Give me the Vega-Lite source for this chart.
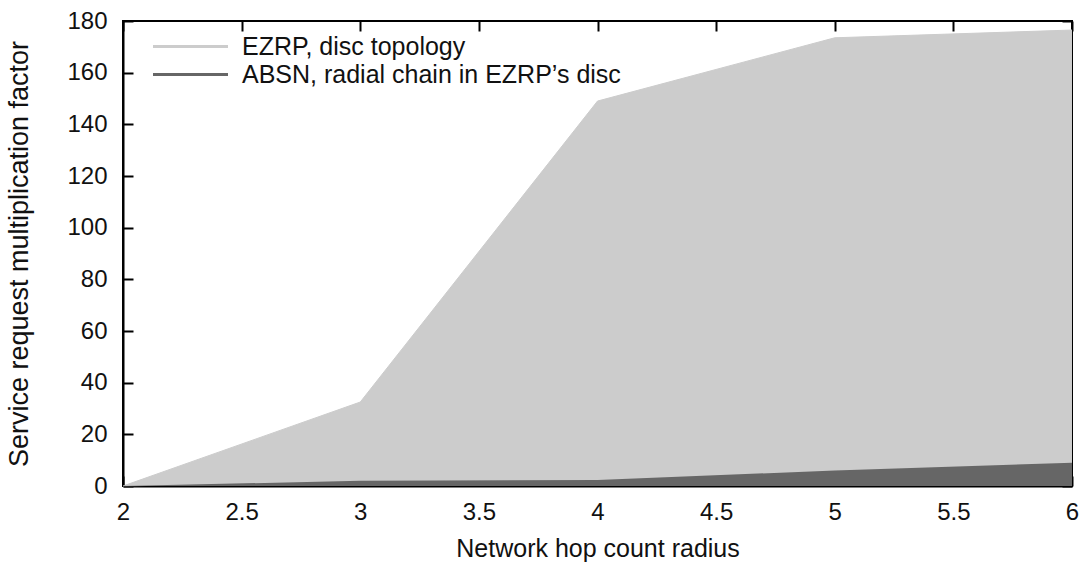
{
  "$schema": "https://vega.github.io/schema/vega-lite/v6.json",
  "autosize": "none",
  "padding": {"left": 123, "top": 21, "right": 8, "bottom": 79},
  "width": 949,
  "height": 465,
  "background": "white",
  "config": {
    "font": "Liberation Sans",
    "view": {"stroke": "black", "strokeWidth": 2},
    "axis": {
      "domainColor": "black", "domainWidth": 2, "tickColor": "black", "tickWidth": 2,
      "tickSize": -10, "labelFontSize": 24, "labelColor": "#111", "titleFontSize": 25,
      "titleFontWeight": "normal", "titleColor": "#111", "grid": false, "labelFont": "Liberation Sans", "titleFont": "Liberation Sans",
      "labelOverlap": false
    }
  },
  "data": {"values": [
    {"x": 2, "y": 0, "s": "EZRP, disc topology"},
    {"x": 3, "y": 32.5, "s": "EZRP, disc topology"},
    {"x": 4, "y": 149, "s": "EZRP, disc topology"},
    {"x": 5, "y": 173.5, "s": "EZRP, disc topology"},
    {"x": 6, "y": 176.5, "s": "EZRP, disc topology"},
    {"x": 2, "y": 0, "s": "ABSN, radial chain in EZRP’s disc"},
    {"x": 3, "y": 2, "s": "ABSN, radial chain in EZRP’s disc"},
    {"x": 4, "y": 2.3, "s": "ABSN, radial chain in EZRP’s disc"},
    {"x": 5, "y": 6, "s": "ABSN, radial chain in EZRP’s disc"},
    {"x": 6, "y": 9, "s": "ABSN, radial chain in EZRP’s disc"}
  ]},
  "resolve": {"axis": {"x": "independent", "y": "independent"}},
  "layer": [
    {
      "mark": {"type": "line", "strokeWidth": 1},
      "encoding": {
        "x": {"field": "x", "type": "quantitative", "scale": {"domain": [2, 6], "nice": false},
          "axis": {"title": "Network hop count radius", "values": [2, 2.5, 3, 3.5, 4, 4.5, 5, 5.5, 6], "format": "~g", "labelPadding": 24, "titlePadding": 12, "labelFlush": false}},
        "y": {"field": "y", "type": "quantitative", "scale": {"domain": [0, 180], "nice": false},
          "axis": {"title": "Service request multiplication factor", "titleFontSize": 27, "values": [0, 20, 40, 60, 80, 100, 120, 140, 160, 180], "labelPadding": 26, "titlePadding": 33}},
        "stroke": {"field": "s", "type": "nominal",
          "scale": {"domain": ["EZRP, disc topology", "ABSN, radial chain in EZRP’s disc"], "range": ["#cccccc", "#666666"]},
          "legend": {"title": null, "orient": "none", "legendX": 55, "legendY": 13, "symbolType": "M-5,0H5", "symbolSize": 225,
            "symbolStrokeWidth": 3, "labelFontSize": 25, "labelColor": "#111", "labelFont": "Liberation Sans", "labelLimit": 600, "rowPadding": 2, "labelOffset": 39}}
      }
    },
    {
      "transform": [{"filter": "datum.s == 'EZRP, disc topology'"}],
      "mark": {"type": "area", "opacity": 1},
      "encoding": {
        "x": {"field": "x", "type": "quantitative", "axis": null},
        "y": {"field": "y", "type": "quantitative", "stack": null, "axis": null},
        "fill": {"field": "s", "type": "nominal", "legend": null,
          "scale": {"domain": ["EZRP, disc topology", "ABSN, radial chain in EZRP’s disc"], "range": ["#cccccc", "#666666"]}}
      }
    },
    {
      "transform": [{"filter": "datum.s != 'EZRP, disc topology'"}],
      "mark": {"type": "area", "opacity": 1},
      "encoding": {
        "x": {"field": "x", "type": "quantitative", "axis": {"orient": "top", "labels": false, "title": null, "values": [2, 2.5, 3, 3.5, 4, 4.5, 5, 5.5, 6], "domain": false}},
        "y": {"field": "y", "type": "quantitative", "stack": null, "axis": {"orient": "right", "labels": false, "title": null, "values": [0, 20, 40, 60, 80, 100, 120, 140, 160, 180], "domain": false}},
        "fill": {"field": "s", "type": "nominal", "legend": null}
      }
    }
  ]
}
